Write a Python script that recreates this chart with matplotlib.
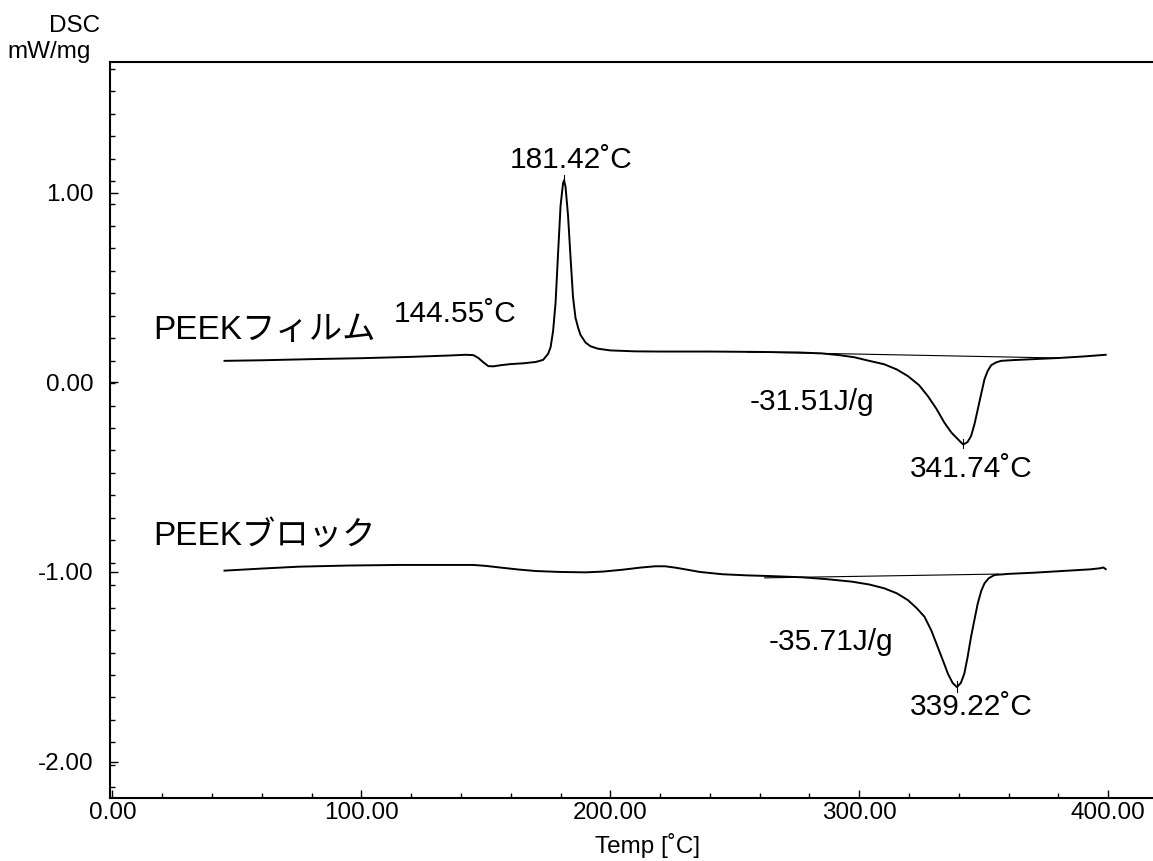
import matplotlib
matplotlib.use("Agg")
import matplotlib.pyplot as plt
import numpy as np

plt.rcParams["font.family"] = ["Liberation Sans", "Noto Sans CJK JP", "DejaVu Sans"]

# PEEK film DSC trace (Temp [C], DSC [mW/mg])
film_t = [45, 60, 80, 100, 120, 135, 142, 145, 147, 149, 151, 153, 156, 160, 165,
          170, 173, 175, 176, 177, 178, 179, 180, 181, 181.42, 182, 183, 184, 185,
          186, 187, 188, 190, 192, 195, 200, 210, 220, 240, 260, 276, 285, 292, 298,
          304, 310, 315, 319.5, 324, 327.5, 331, 334.2, 337, 339.6, 341.74, 343.5,
          344.9, 346.3, 347.6, 349, 350.3, 351.6, 353, 355, 357, 362, 370, 380, 390, 399]
film_v = [0.113, 0.116, 0.122, 0.127, 0.134, 0.141, 0.145, 0.143, 0.128, 0.105, 0.085,
          0.084, 0.090, 0.096, 0.100, 0.107, 0.118, 0.150, 0.185, 0.270, 0.420, 0.680,
          0.930, 1.050, 1.065, 1.030, 0.880, 0.660, 0.450, 0.340, 0.290, 0.250, 0.210,
          0.190, 0.177, 0.168, 0.163, 0.162, 0.162, 0.160, 0.157, 0.152, 0.143, 0.132,
          0.113, 0.095, 0.068, 0.033, -0.015, -0.072, -0.140, -0.213, -0.265, -0.300,
          -0.328, -0.315, -0.284, -0.220, -0.143, -0.060, 0.016, 0.060, 0.090, 0.105,
          0.113, 0.117, 0.122, 0.128, 0.136, 0.145]

# PEEK block DSC trace
block_t = [45, 60, 75, 95, 115, 145, 150, 156, 163, 170, 180, 190, 197, 205, 212, 218,
           222, 226, 230, 236, 245, 255, 265, 277, 287, 297, 304, 310, 315, 319.5, 323,
           326.2, 329, 331.5, 334, 335.6, 337.5, 339.22, 340.8, 342.2, 343.5, 344.9,
           346.3, 347.6, 349, 350.3, 352, 354.3, 360, 370, 384, 393, 397, 398, 399]
block_v = [-0.993, -0.982, -0.972, -0.966, -0.963, -0.963, -0.968, -0.977, -0.987,
           -0.995, -1.000, -1.002, -0.998, -0.988, -0.977, -0.970, -0.970, -0.977,
           -0.986, -1.000, -1.012, -1.018, -1.022, -1.028, -1.038, -1.051, -1.066,
           -1.086, -1.112, -1.148, -1.190, -1.236, -1.310, -1.395, -1.480, -1.536,
           -1.585, -1.607, -1.585, -1.536, -1.450, -1.342, -1.250, -1.166, -1.100,
           -1.060, -1.033, -1.016, -1.010, -1.004, -0.993, -0.986, -0.980, -0.976, -0.985]

# integration baselines
film_base_t = [255, 380]
film_base_v = [0.160, 0.128]
block_base_t = [262, 356]
block_base_v = [-1.031, -1.011]

# peak markers (temp, dsc)
film_peak1 = (181.42, 1.065)
film_peak2 = (341.74, -0.328)
block_peak = (339.22, -1.607)

x_major = [0, 100, 200, 300, 400]
y_major = [1.0, 0.0, -1.0, -2.0]

fig = plt.figure(figsize=(11.53, 8.61), dpi=100)
ax = fig.add_axes([110 / 1153, 63.3 / 861, 1 - 110 / 1153, 736 / 861])

ax.plot(film_t, film_v, color="black", lw=1.4)
ax.plot(block_t, block_v, color="black", lw=1.4)
ax.plot(film_base_t, film_base_v, color="black", lw=0.8)
ax.plot(block_base_t, block_base_v, color="black", lw=0.8)

# small vertical markers at the peaks
ax.plot([film_peak1[0]] * 2, [film_peak1[1], film_peak1[1] + 0.03], color="black", lw=0.8)
ax.plot([film_peak2[0]] * 2, [film_peak2[1] + 0.03, film_peak2[1] - 0.02], color="black", lw=0.8)
ax.plot([block_peak[0]] * 2, [block_peak[1] + 0.03, block_peak[1] - 0.025], color="black", lw=0.8)

ax.set_xlim(-1.0, 418)
ax.set_ylim(-2.19, 1.69)

ax.set_xticks(x_major)
ax.set_xticklabels([f"{v:.2f}" for v in x_major])
ax.set_xticks([v for v in range(0, 420, 20) if v % 100], minor=True)
ax.set_yticks(y_major)
ax.set_yticklabels([f"{v:.2f}" for v in y_major])
ax.set_yticks(np.arange(-2.135, 1.70, 0.11836), minor=True)

ax.tick_params(which="both", direction="in", width=1.0, color="black")
ax.tick_params(which="major", length=6)
ax.tick_params(which="minor", length=3.5)
ax.tick_params(axis="x", which="major", labelsize=17.5, pad=3)
ax.tick_params(axis="y", which="major", labelsize=17.5, pad=12)

for side in ["left", "bottom", "top"]:
    ax.spines[side].set_linewidth(1.5)
ax.spines["right"].set_visible(False)

fs_ann = 21.5
ax.text(16.4, 0.227, "PEEKフィルム", fontsize=24, ha="left", va="baseline")
ax.text(16.4, -0.863, "PEEKブロック", fontsize=24, ha="left", va="baseline")
ax.text(184.3, 1.128, "181.42˚C", fontsize=fs_ann, ha="center", va="baseline")
ax.text(112.8, 0.32, "144.55˚C", fontsize=fs_ann, ha="left", va="baseline")
ax.text(306.2, -0.146, "-31.51J/g", fontsize=fs_ann, ha="right", va="baseline")
ax.text(320.3, -0.499, "341.74˚C", fontsize=fs_ann, ha="left", va="baseline")
ax.text(313.5, -1.411, "-35.71J/g", fontsize=fs_ann, ha="right", va="baseline")
ax.text(320.3, -1.754, "339.22˚C", fontsize=fs_ann, ha="left", va="baseline")

fig.text(100 / 1153, 1 - 31.7 / 861, "DSC", fontsize=17.5, ha="right", va="baseline")
fig.text(91 / 1153, 1 - 58.3 / 861, "mW/mg", fontsize=17.5, ha="right", va="baseline")
fig.text(648 / 1153, 1 - 853 / 861, "Temp [˚C]", fontsize=17.5, ha="center", va="baseline")

fig.savefig("out.png", dpi=100)
